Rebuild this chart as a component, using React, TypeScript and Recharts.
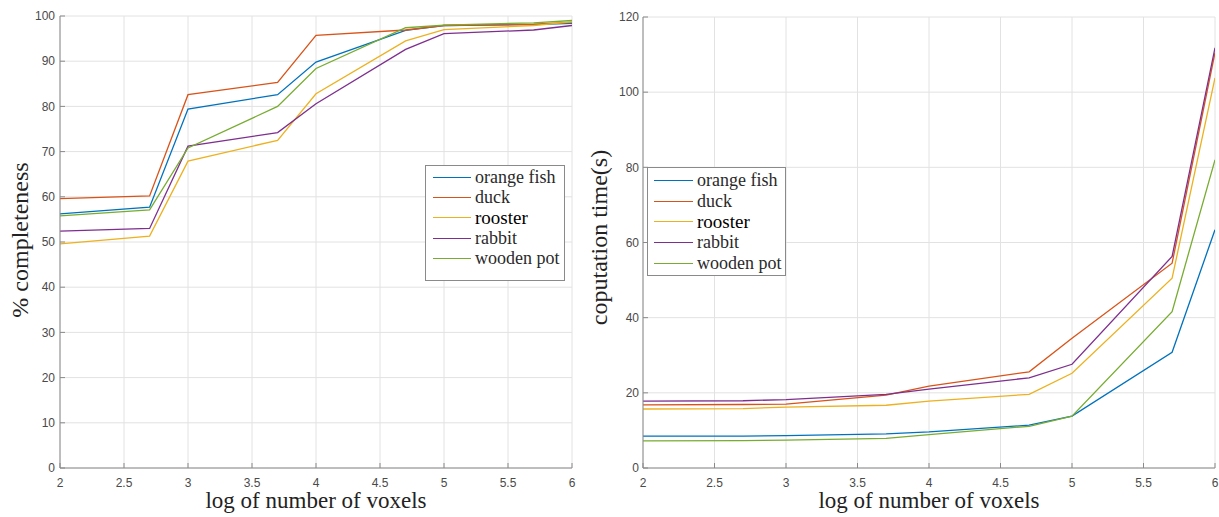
import React from 'react';
import { LineChart, Line, XAxis, YAxis, CartesianGrid, Legend } from 'recharts';

const xValues = [2, 2.7, 3, 3.7, 4, 4.7, 5, 5.7, 6];
const xTicks = [2, 2.5, 3, 3.5, 4, 4.5, 5, 5.5, 6];
const seriesNames = ['orange fish', 'duck', 'rooster', 'rabbit', 'wooden pot'];
const seriesColors = ['#0072BD', '#D95319', '#EDB120', '#7E2F8E', '#77AC30'];

// completeness (%)
const compOrangeFish = [56.2, 57.7, 79.4, 82.6, 89.8, 96.8, 97.9, 98.1, 98.4];
const compDuck = [59.6, 60.2, 82.6, 85.3, 95.7, 96.9, 97.9, 98.2, 98.6];
const compRooster = [49.6, 51.3, 67.9, 72.5, 82.8, 94.5, 97.0, 97.9, 98.7];
const compRabbit = [52.4, 53.0, 71.2, 74.2, 80.6, 92.6, 96.1, 96.9, 97.9];
const compWoodenPot = [55.8, 57.1, 70.8, 80.0, 88.4, 97.4, 98.0, 98.5, 99.0];
const compTicks = [0, 10, 20, 30, 40, 50, 60, 70, 80, 90, 100];

// computation time (s)
const timeOrangeFish = [8.5, 8.5, 8.6, 9.1, 9.6, 11.4, 13.8, 30.8, 63.4];
const timeDuck = [16.8, 16.9, 17.0, 19.4, 21.8, 25.6, 34.5, 54.5, 110.5];
const timeRooster = [15.7, 15.8, 16.2, 16.7, 17.8, 19.6, 25.2, 50.5, 103.8];
const timeRabbit = [17.8, 17.9, 18.2, 19.6, 21.0, 24.0, 27.6, 56.3, 111.8];
const timeWoodenPot = [7.2, 7.3, 7.4, 7.9, 8.9, 11.1, 13.8, 41.6, 82.0];
const timeTicks = [0, 20, 40, 60, 80, 100, 120];

const keys = ['s0', 's1', 's2', 's3', 's4'];

const buildRows = (series: number[][]) =>
  xValues.map((x, i) => {
    const row: Record<string, number> = { x };
    series.forEach((s, k) => {
      row[keys[k]] = s[i];
    });
    return row;
  });

const compData = buildRows([compOrangeFish, compDuck, compRooster, compRabbit, compWoodenPot]);
const timeData = buildRows([timeOrangeFish, timeDuck, timeRooster, timeRabbit, timeWoodenPot]);

const FRAME = '#8a8a8a';
const TICK_TEXT = '#4a4a4a';
const SERIF = '"Liberation Serif", "Times New Roman", serif';
const SANS = '"Liberation Sans", Arial, Helvetica, sans-serif';
const TICK_LEN = 5;

const BottomTick = (props: any) => {
  const { x, y, payload } = props;
  return (
    <g>
      <line x1={x} x2={x} y1={y} y2={y - TICK_LEN} stroke={FRAME} strokeWidth={1} />
      <text x={x} y={y + 10} dy="0.71em" textAnchor="middle" fill={TICK_TEXT} fontSize={12} fontFamily={SANS}>
        {payload.value}
      </text>
    </g>
  );
};

const makeLeftTick = (gap: number) => (props: any) => {
  const { x, y, payload } = props;
  return (
    <g>
      <line x1={x} x2={x + TICK_LEN} y1={y} y2={y} stroke={FRAME} strokeWidth={1} />
      <text x={x - gap} y={y} dy="0.35em" textAnchor="end" fill={TICK_TEXT} fontSize={12} fontFamily={SANS}>
        {payload.value}
      </text>
    </g>
  );
};

const makeXLabel = (text: string) => (props: any) => {
  const vb = props.viewBox;
  return (
    <text x={vb.x + vb.width / 2} y={vb.y + 40} textAnchor="middle" fill="#222" fontSize={23} fontFamily={SERIF}>
      {text}
    </text>
  );
};

const makeYLabel = (text: string, baseX: number, shiftY: number) => (props: any) => {
  const vb = props.viewBox;
  const cx = vb.x + baseX;
  const cy = vb.y + vb.height / 2 + shiftY;
  return (
    <text x={cx} y={cy} transform={`rotate(-90 ${cx} ${cy})`} textAnchor="middle" fill="#222" fontSize={24} fontFamily={SERIF}>
      {text}
    </text>
  );
};

const makeLegend = (rowH: number, padTop: number, padBottom: number, padLeft: number, lineLen: number) => (props: any) => {
  const payload = [...(props.payload || [])].sort(
    (a: any, b: any) => seriesNames.indexOf(a.value) - seriesNames.indexOf(b.value)
  );
  return (
    <div
      style={{
        border: `1.3px solid ${FRAME}`,
        background: '#fff',
        paddingTop: padTop,
        paddingBottom: padBottom,
        paddingLeft: padLeft,
        boxSizing: 'border-box',
      }}
    >
      {payload.map((p: any) => {
        const idx = seriesNames.indexOf(p.value);
        const isRooster = p.value === 'rooster';
        return (
          <div key={p.value} style={{ display: 'flex', alignItems: 'center', height: rowH }}>
            <span
              style={{
                display: 'inline-block',
                width: lineLen,
                height: 0,
                borderTop: `1.4px solid ${seriesColors[idx]}`,
                marginRight: 4,
              }}
            />
            <span
              style={{
                fontFamily: SERIF,
                fontSize: isRooster ? 19 : 18,
                color: isRooster ? '#000' : '#2a2a2a',
                lineHeight: `${rowH}px`,
                whiteSpace: 'nowrap',
              }}
            >
              {p.value}
            </span>
          </div>
        );
      })}
    </div>
  );
};

const renderLines = () =>
  keys.map((k, i) => (
    <Line
      key={k}
      type="linear"
      dataKey={k}
      name={seriesNames[i]}
      stroke={seriesColors[i]}
      strokeWidth={1.3}
      dot={false}
      activeDot={false}
      isAnimationActive={false}
    />
  ));

const FrameAxes = ({ yDomain, yTicks }: { yDomain: [number, number]; yTicks: number[] }) => null;

export default function App() {
  return (
    <div style={{ position: 'absolute', left: 0, top: 0, width: 1219, height: 517, background: '#fff' }}>
      <div style={{ position: 'absolute', left: 0, top: 0 }}>
        <LineChart width={600} height={517} data={compData} margin={{ top: 16, right: 28, bottom: 0, left: 0 }}>
          <CartesianGrid stroke="#e2e2e2" strokeWidth={1} horizontalValues={compTicks} verticalValues={xTicks} />
          <XAxis
            dataKey="x"
            type="number"
            domain={[2, 6]}
            ticks={xTicks}
            allowDataOverflow
            height={49}
            stroke={FRAME}
            tickLine={false}
            tickSize={0}
            tickMargin={0}
            tick={<BottomTick />}
            interval={0}
            label={{ content: makeXLabel('log of number of voxels') }}
          />
          <XAxis
            xAxisId="top"
            orientation="top"
            type="number"
            domain={[2, 6]}
            ticks={xTicks}
            allowDataOverflow
            height={0}
            mirror
            stroke={FRAME}
            tick={false}
            tickSize={TICK_LEN}
          />
          <YAxis
            type="number"
            domain={[0, 100]}
            ticks={compTicks}
            width={60}
            stroke={FRAME}
            tickLine={false}
            tickSize={0}
            tickMargin={0}
            interval={0}
            tick={makeLeftTick(5)}
            label={{ content: makeYLabel('% completeness', 28, -2) }}
          />
          <YAxis
            yAxisId="right"
            orientation="right"
            type="number"
            domain={[0, 100]}
            ticks={compTicks}
            width={0}
            mirror
            stroke={FRAME}
            tick={false}
            tickSize={TICK_LEN}
          />
          {renderLines()}
          <Legend
            layout="vertical"
            align="center"
            verticalAlign="middle"
            content={makeLegend(20.3, 1, 12, 7, 38)}
            wrapperStyle={{ left: 425, top: 165, width: 140, height: 116 }}
          />
        </LineChart>
      </div>
      <div style={{ position: 'absolute', left: 570, top: 0 }}>
        <LineChart width={649} height={517} data={timeData} margin={{ top: 17, right: 4, bottom: 0, left: 0 }}>
          <CartesianGrid stroke="#e2e2e2" strokeWidth={1} horizontalValues={timeTicks} verticalValues={xTicks} />
          <XAxis
            dataKey="x"
            type="number"
            domain={[2, 6]}
            ticks={xTicks}
            allowDataOverflow
            height={49}
            stroke={FRAME}
            tickLine={false}
            tickSize={0}
            tickMargin={0}
            tick={<BottomTick />}
            interval={0}
            label={{ content: makeXLabel('log of number of voxels') }}
          />
          <XAxis
            xAxisId="top"
            orientation="top"
            type="number"
            domain={[2, 6]}
            ticks={xTicks}
            allowDataOverflow
            height={0}
            mirror
            stroke={FRAME}
            tick={false}
            tickSize={TICK_LEN}
          />
          <YAxis
            type="number"
            domain={[0, 120]}
            ticks={timeTicks}
            width={73}
            stroke={FRAME}
            tickLine={false}
            tickSize={0}
            tickMargin={0}
            interval={0}
            tick={makeLeftTick(4)}
            label={{ content: makeYLabel('coputation time(s)', 37, -5) }}
          />
          <YAxis
            yAxisId="right"
            orientation="right"
            type="number"
            domain={[0, 120]}
            ticks={timeTicks}
            width={0}
            mirror
            stroke={FRAME}
            tick={false}
            tickSize={TICK_LEN}
          />
          {renderLines()}
          <Legend
            layout="vertical"
            align="center"
            verticalAlign="middle"
            content={makeLegend(20.8, 2, 1, 6, 39)}
            wrapperStyle={{ left: 77, top: 167, width: 139, height: 110 }}
          />
        </LineChart>
      </div>
    </div>
  );
}
